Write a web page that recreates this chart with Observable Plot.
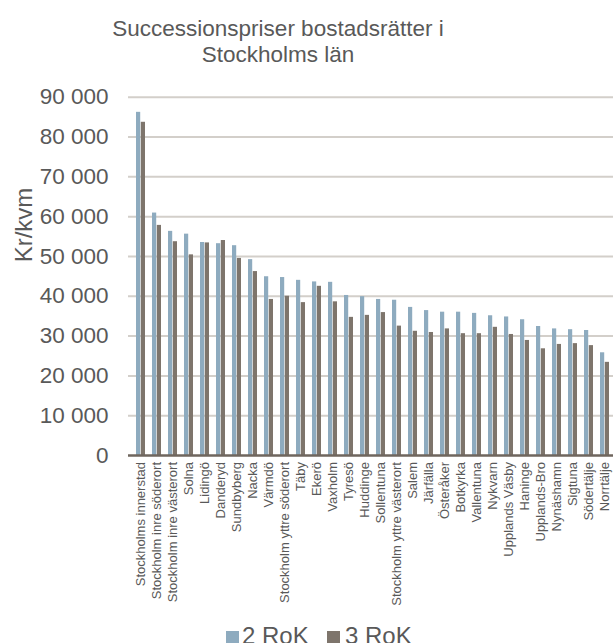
<!DOCTYPE html>
<html>
<head>
<meta charset="utf-8">
<script src="https://cdn.jsdelivr.net/npm/d3@7"></script>
<script src="https://cdn.jsdelivr.net/npm/@observablehq/plot@0.6"></script>
<style>
  html, body { margin: 0; padding: 0; background: #fff; overflow: hidden; }
  body { width: 613px; height: 643px; position: relative; font-family: "Liberation Sans", Arial, sans-serif; color: #595959; }
  #title { position: absolute; left: 0; top: 16px; width: 556px; text-align: center; font-size: 22.5px; line-height: 26px; }
  #chart { position: absolute; left: 0; top: 80px; }
  .key { position: absolute; top: 624px; font-size: 24px; line-height: 24px; white-space: nowrap; }
  .sw { position: absolute; top: 631px; width: 13px; height: 13px; }
</style>
</head>
<body>
<div id="title">Successionspriser bostadsrätter i<br>Stockholms län</div>
<div id="chart"></div>
<div id="legend"></div>
<script>
// Kommuner och stadsdelar, sorterade efter pris för 2 RoK
const kommuner = [
  "Stockholms innerstad", "Stockholm inre söderort", "Stockholm inre västerort", "Solna",
  "Lidingö", "Danderyd", "Sundbyberg", "Nacka", "Värmdö", "Stockholm yttre söderort",
  "Täby", "Ekerö", "Vaxholm", "Tyresö", "Huddinge", "Sollentuna", "Stockholm yttre västerort",
  "Salem", "Järfälla", "Österåker", "Botkyrka", "Vallentuna", "Nykvarn", "Upplands Väsby",
  "Haninge", "Upplands-Bro", "Nynäshamn", "Sigtuna", "Södertälje", "Norrtälje"
];

// Pris i kr/kvm
const pris2RoK = [
  86200, 60900, 56300, 55600, 53500, 53200, 52700, 49200, 44900, 44700,
  44000, 43600, 43500, 40200, 39900, 39200, 39000, 37200, 36400, 36000,
  36000, 35700, 35100, 34800, 34100, 32400, 31800, 31600, 31400, 25800
];
const pris3RoK = [
  83700, 57800, 53700, 50400, 53400, 54000, 49500, 46200, 39200, 40000,
  38400, 42500, 38600, 34700, 35200, 35900, 32500, 31200, 30900, 31800,
  30600, 30600, 32200, 30400, 28900, 26800, 27900, 28100, 27600, 23400
];

const serier = ["2 RoK", "3 RoK"];
const farger = ["#8eabbf", "#7e756c"];
const yTicks = [0, 10000, 20000, 30000, 40000, 50000, 60000, 70000, 80000, 90000];

const rows = kommuner.flatMap((k, i) => [
  {kommun: k, typ: serier[0], kr: pris2RoK[i]},
  {kommun: k, typ: serier[1], kr: pris3RoK[i]}
]);

const fmt = d3.formatLocale({thousands: " ", grouping: [3], decimal: ",", currency: ["", ""]}).format(",");

const chart = Plot.plot({
  width: 613,
  height: 525,
  marginLeft: 131,
  marginRight: 0,
  marginTop: 16.7,
  marginBottom: 150,
  style: {fontFamily: "'Liberation Sans', Arial, sans-serif", color: "#595959", background: "transparent"},
  x: {domain: kommuner, paddingInner: 0.44, paddingOuter: 0.22, label: null},
  y: {domain: [0, 90000], label: null},
  marks: [
    Plot.ruleY(yTicks.filter(d => d > 0), {stroke: "#d3cfca", strokeWidth: 2, insetLeft: -3}),
    Plot.barY(rows.filter(d => d.typ === serier[0]), {x: "kommun", y: "kr", fill: farger[0], insetRight: 4.8}),
    Plot.barY(rows.filter(d => d.typ === serier[1]), {x: "kommun", y: "kr", fill: farger[1], insetLeft: 4.8}),
    Plot.ruleY([0], {stroke: "#6f665e", strokeWidth: 2.5, insetLeft: -3}),
    Plot.axisY({ticks: yTicks, tickFormat: fmt, tickSize: 0, tickPadding: 23, fontSize: 22.5, fill: "#595959", label: null}),
    Plot.axisX({tickRotate: -90, tickSize: 0, tickPadding: 6.5, fontSize: 13, fill: "#595959", label: null}),
    Plot.text(["Kr/kvm"], {frameAnchor: "left", rotate: -90, dx: -107, dy: -14, fontSize: 24, fill: "#595959"})
  ]
});
document.getElementById("chart").appendChild(chart);

// Förklaring
const legend = document.getElementById("legend");
const pos = [{sw: 226, txt: 242}, {sw: 327, txt: 345}];
serier.forEach((s, i) => {
  const sw = document.createElement("div");
  sw.className = "sw";
  sw.style.left = pos[i].sw + "px";
  sw.style.background = farger[i];
  legend.appendChild(sw);
  const t = document.createElement("div");
  t.className = "key";
  t.style.left = pos[i].txt + "px";
  t.textContent = s;
  legend.appendChild(t);
});
</script>
</body>
</html>
